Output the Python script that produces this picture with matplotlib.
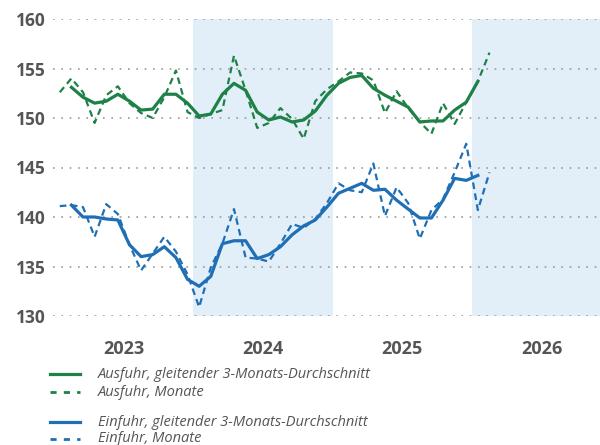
import matplotlib
matplotlib.use("Agg")
import matplotlib.pyplot as plt
from matplotlib.lines import Line2D
import pandas as pd

plt.rcParams['font.family'] = ['Open Sans', 'DejaVu Sans']

# ---- data ----
first_month = "2023-01"
exports_monthly = [152.6, 154.0, 152.6, 149.5, 152.3, 153.2, 151.5, 150.5, 150.0, 152.1,
                   154.8, 150.6, 150.0, 150.4, 150.8, 156.3, 152.8, 149.0, 149.5, 151.0,
                   149.9, 147.9, 151.7, 152.9, 153.7, 154.6, 154.5, 153.8, 150.5, 152.7,
                   151.0, 149.6, 148.4, 151.5, 149.4, 151.6, 153.7, 156.6]
exports_avg3 = [153.1, 152.1, 151.5, 151.7, 152.4, 151.7, 150.8, 150.9, 152.4, 152.4,
                151.5, 150.2, 150.4, 152.4, 153.5, 152.8, 150.6, 149.8, 150.1, 149.6,
                149.8, 150.7, 152.3, 153.5, 154.1, 154.3, 153.0, 152.3, 151.7, 151.1,
                149.6, 149.7, 149.7, 150.8, 151.6, 153.7]
imports_monthly = [141.1, 141.2, 141.0, 138.0, 141.3, 140.3, 137.2, 134.6, 136.3, 138.0,
                   136.5, 134.2, 130.9, 134.9, 137.3, 140.8, 135.9, 135.8, 135.5, 137.3,
                   139.3, 138.9, 139.8, 141.4, 143.4, 142.7, 142.5, 145.4, 140.1, 143.0,
                   141.4, 137.8, 140.7, 141.8, 144.5, 147.4, 140.7, 144.5]
imports_avg3 = [141.2, 140.0, 140.0, 139.8, 139.7, 137.2, 136.0, 136.2, 137.0, 135.9,
                133.7, 133.0, 134.0, 137.3, 137.6, 137.6, 135.8, 136.2, 137.0, 138.2,
                139.1, 139.7, 141.0, 142.4, 142.9, 143.4, 142.7, 142.8, 141.7, 140.8,
                139.9, 139.9, 141.7, 143.9, 143.7, 144.2]
years = [2023, 2024, 2025, 2026]
shaded_years = [2024, 2026]
y_ticks = [130, 135, 140, 145, 150, 155, 160]
legend_labels = ["Ausfuhr, gleitender 3-Monats-Durchschnitt", "Ausfuhr, Monate",
                 "Einfuhr, gleitender 3-Monats-Durchschnitt", "Einfuhr, Monate"]

GREEN = "#1e8147"
BLUE = "#1f6fb6"
SHADE = "#e2eef8"
GRID = "#9a9a9a"
TEXT = "#555555"

periods = pd.period_range(first_month, periods=len(exports_monthly), freq="M")
x_month = [p.year + (p.month - 0.5) / 12 for p in periods]
x_avg = x_month[1:-1]

W, H = 600, 445
fig = plt.figure(figsize=(W / 100, H / 100), dpi=100)
left_px, right_px, top_px, bottom_px = 53, 600, 19, 316
ax = fig.add_axes([left_px / W, 1 - bottom_px / H, (right_px - left_px) / W, (bottom_px - top_px) / H])

ax.set_xlim(2022.993, 2026.918)
ax.set_ylim(130, 160)

for yr in shaded_years:
    ax.axvspan(yr, yr + 1, color=SHADE, lw=0, zorder=0)

for yv in y_ticks:
    ax.axhline(yv, color=GRID, lw=1.2, linestyle=(0, (1, 4)), zorder=1)

dash = (0, (3, 2))
ax.plot(x_month, exports_monthly, color=GREEN, lw=1.6, linestyle=dash, zorder=3)
ax.plot(x_avg, exports_avg3, color=GREEN, lw=2.3, zorder=4, solid_joinstyle="round")
ax.plot(x_month, imports_monthly, color=BLUE, lw=1.6, linestyle=dash, zorder=3)
ax.plot(x_avg, imports_avg3, color=BLUE, lw=2.3, zorder=4, solid_joinstyle="round")

for s in ax.spines.values():
    s.set_visible(False)
ax.set_yticks(y_ticks)
ax.set_yticklabels([str(v) for v in y_ticks])
ax.tick_params(axis="y", length=0, pad=5.5, labelsize=12.5, labelcolor=TEXT)
for lab in ax.get_yticklabels():
    lab.set_fontweight("bold")
ax.set_xticks([])

for yr in years:
    ax.text(yr + 0.5, 130, str(yr), transform=ax.transData, ha="center", va="center",
            fontsize=13, fontweight="bold", color=TEXT,
            ).set_position((yr + 0.5, 130 - (349 - bottom_px) / ((bottom_px - top_px) / 30)))

# legend drawn manually
rows_px = [374, 392, 422, 439]
styles = [(GREEN, "-", 2.3), (GREEN, (0, (2.2, 2.6)), 2.0), (BLUE, "-", 2.3), (BLUE, (0, (2.2, 2.6)), 2.0)]
for lbl, ypx, (c, ls, lw) in zip(legend_labels, rows_px, styles):
    yf = 1 - ypx / H
    fig.add_artist(Line2D([50 / W, 80 / W], [yf, yf], color=c, linestyle=ls, lw=lw,
                          transform=fig.transFigure))
    fig.text(98 / W, yf, lbl, ha="left", va="center", fontsize=10.5, style="italic", color=TEXT)

fig.savefig("out.png", dpi=100)
